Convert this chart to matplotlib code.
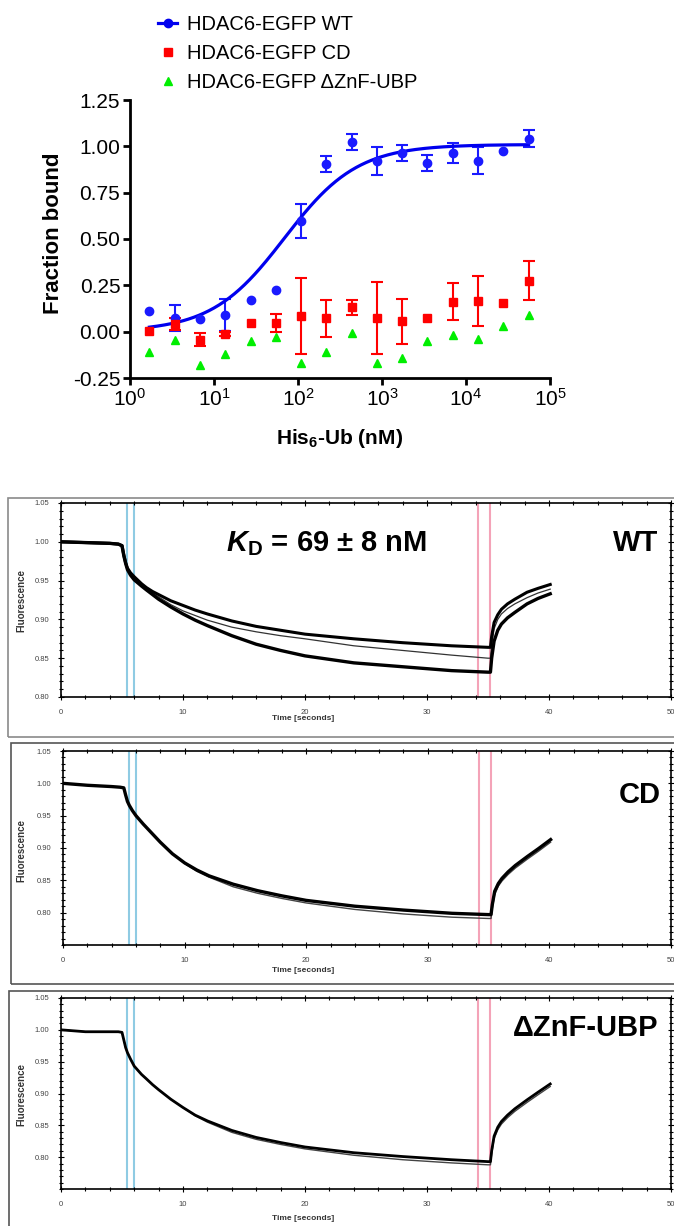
import matplotlib
matplotlib.use('Agg')
import matplotlib.pyplot as plt
from matplotlib.lines import Line2D
from matplotlib.patches import Rectangle
from matplotlib.ticker import LogLocator, NullLocator, MultipleLocator, FormatStrFormatter
import numpy as np

W, H = 674, 1226
plt.rcParams['font.family'] = ['Liberation Sans', 'DejaVu Sans']
plt.rcParams['axes.unicode_minus'] = False
plt.rcParams['mathtext.fontset'] = 'custom'
plt.rcParams['mathtext.rm'] = 'Liberation Sans'
plt.rcParams['mathtext.it'] = 'Liberation Sans:italic'
plt.rcParams['mathtext.bf'] = 'Liberation Sans:bold'
plt.rcParams['mathtext.bfit'] = 'Liberation Sans:italic:bold'

# ---- binding curve data (His6-Ub titration, nM) ----
conc = [1.7, 3.4, 6.8, 13.6, 27.2, 54.3, 108.6, 217, 434, 869, 1738, 3475, 6950, 13900, 27800, 55600]
wt = [0.113, 0.073, 0.071, 0.090, 0.172, 0.227, 0.598, 0.903, 1.023, 0.921, 0.964, 0.912, 0.964, 0.923, 0.973, 1.041]
wt_err = [0, 0.07, 0, 0.085, 0, 0, 0.092, 0.043, 0.044, 0.073, 0.043, 0.043, 0.055, 0.073, 0, 0.047]
cd = [0.002, 0.040, -0.043, -0.014, 0.047, 0.047, 0.086, 0.072, 0.131, 0.075, 0.055, 0.072, 0.161, 0.167, 0.156, 0.274]
cd_err = [0, 0.033, 0.035, 0.012, 0, 0.05, 0.204, 0.1, 0.04, 0.193, 0.12, 0, 0.1, 0.135, 0, 0.105]
dznf = [-0.111, -0.043, -0.179, -0.12, -0.052, -0.031, -0.17, -0.109, -0.009, -0.17, -0.141, -0.052, -0.02, -0.041, 0.031, 0.09]
kd_nm = 69
fit_top = 1.01

labels = ['HDAC6-EGFP WT', 'HDAC6-EGFP CD', 'HDAC6-EGFP \u0394ZnF-UBP']

# ---- MST time traces (seconds / normalised fluorescence) ----
t = [0, 2, 4, 4.7, 5.0, 5.15, 5.3, 5.45, 5.7, 6.0, 6.6, 7.0, 7.5, 8.0, 9.0, 10, 11, 12, 14, 16, 18, 20,
     24, 28, 32, 35.0, 35.2, 35.3, 35.5, 35.8, 36.1, 36.6, 37.2, 38.2, 39.1, 40.1]
wt_hi = [1.000, 0.999, 0.998, 0.997, 0.995, 0.983, 0.973, 0.966, 0.960, 0.955, 0.946, 0.941, 0.936, 0.932,
         0.924, 0.918, 0.912, 0.907, 0.898, 0.891, 0.886, 0.881, 0.875, 0.870, 0.866, 0.864,
         0.864, 0.878, 0.896, 0.906, 0.913, 0.920, 0.926, 0.935, 0.940, 0.945]
wt_mid = [1.000, 0.999, 0.998, 0.997, 0.995, 0.983, 0.973, 0.966, 0.959, 0.954, 0.945, 0.940, 0.934, 0.929,
          0.919, 0.911, 0.905, 0.899, 0.890, 0.884, 0.879, 0.875, 0.866, 0.860, 0.854, 0.850,
          0.850, 0.866, 0.888, 0.900, 0.907, 0.914, 0.920, 0.928, 0.934, 0.939]
wt_lo = [1.000, 0.999, 0.998, 0.997, 0.995, 0.982, 0.972, 0.964, 0.957, 0.951, 0.943, 0.938, 0.932, 0.926,
         0.916, 0.907, 0.899, 0.892, 0.879, 0.868, 0.860, 0.853, 0.844, 0.839, 0.834, 0.832,
         0.832, 0.850, 0.872, 0.886, 0.894, 0.902, 0.909, 0.920, 0.927, 0.933]
cd_a = [1.000, 0.997, 0.995, 0.994, 0.993, 0.982, 0.972, 0.966, 0.958, 0.950, 0.937, 0.929, 0.919, 0.909,
        0.891, 0.877, 0.866, 0.857, 0.844, 0.834, 0.826, 0.819, 0.810, 0.804, 0.799, 0.797,
        0.797, 0.812, 0.833, 0.845, 0.853, 0.863, 0.873, 0.887, 0.899, 0.913]
cd_b = [1.000, 0.997, 0.995, 0.994, 0.993, 0.982, 0.972, 0.966, 0.958, 0.950, 0.937, 0.929, 0.919, 0.909,
        0.891, 0.876, 0.864, 0.855, 0.840, 0.830, 0.822, 0.815, 0.805, 0.798, 0.793, 0.791,
        0.791, 0.806, 0.828, 0.841, 0.849, 0.859, 0.869, 0.883, 0.895, 0.909]
dz_a = [1.000, 0.997, 0.997, 0.997, 0.996, 0.984, 0.972, 0.964, 0.954, 0.943, 0.930, 0.923, 0.914, 0.906,
        0.891, 0.878, 0.866, 0.857, 0.842, 0.831, 0.823, 0.816, 0.807, 0.801, 0.796, 0.793,
        0.793, 0.810, 0.833, 0.847, 0.856, 0.866, 0.876, 0.890, 0.902, 0.915]
dz_b = [1.000, 0.997, 0.997, 0.997, 0.996, 0.984, 0.972, 0.964, 0.954, 0.943, 0.930, 0.923, 0.914, 0.906,
        0.891, 0.878, 0.865, 0.855, 0.839, 0.828, 0.820, 0.813, 0.803, 0.796, 0.791, 0.788,
        0.788, 0.805, 0.829, 0.843, 0.852, 0.862, 0.872, 0.886, 0.898, 0.911]
cold_region = [5.45, 6.0]
hot_region = [34.2, 35.2]

fig = plt.figure(figsize=(W / 100, H / 100), dpi=100)


def add_ax(l, t_, r, b):
    return fig.add_axes([l / W, 1 - b / H, (r - l) / W, (b - t_) / H])


def fx(px):
    return px / W


def fy(py):
    return 1 - py / H


# ================= top: binding curve =================
ax = add_ax(130, 100, 550, 378)
c = np.array(conc)
cfit = np.logspace(np.log10(conc[0]), np.log10(conc[-1]), 300)
ax.plot(cfit, fit_top * cfit / (kd_nm + cfit), color='#0000ee', lw=2.3, zorder=3)

for y, err, col, mk, ms in [(wt, wt_err, '#1a1aff', 'o', 6), (cd, cd_err, '#ff0000', 's', 5.5)]:
    y = np.array(y)
    err = np.array(err)
    m = err > 0
    ax.errorbar(c[m], y[m], yerr=err[m], fmt='none', ecolor=col, elinewidth=1.5,
                capsize=4, capthick=1.5, zorder=2)
    ax.plot(c, y, ls='none', marker=mk, color=col, ms=ms, zorder=4)
ax.plot(c, dznf, ls='none', marker='^', color='#00ee00', ms=5.5, zorder=4)

ax.set_xscale('log')
ax.set_xlim(1, 1e5)
ax.set_ylim(-0.25, 1.25)
ax.xaxis.set_major_locator(LogLocator(base=10, numticks=10))
ax.xaxis.set_minor_locator(NullLocator())
ax.yaxis.set_major_locator(MultipleLocator(0.25))
ax.yaxis.set_major_formatter(FormatStrFormatter('%.2f'))
for s in ['top', 'right']:
    ax.spines[s].set_visible(False)
for s in ['left', 'bottom']:
    ax.spines[s].set_linewidth(2)
ax.tick_params(width=2, length=5, labelsize=15, pad=2)

fig.text(fx(54), fy(233), 'Fraction bound', rotation=90, ha='center', va='center',
         fontsize=16, fontweight='bold')
fig.text(fx(340), fy(439), r'His$_{\mathdefault{6}}$-Ub (nM)', ha='center', va='center',
         fontsize=15, fontweight='bold')

handles = [Line2D([], [], color='#0000ee', lw=2.3, marker='o', ms=6),
           Line2D([], [], color='#ff0000', ls='none', marker='s', ms=5.5),
           Line2D([], [], color='#00ee00', ls='none', marker='^', ms=5.5)]
fig.legend(handles, labels, loc='upper left', bbox_to_anchor=(fx(158), fy(15)),
           frameon=False, fontsize=14.5, handlelength=0.95, handletextpad=0.5,
           labelspacing=0.5, borderpad=0, borderaxespad=0)

# ================= bottom: MST traces =================
panels = [
    dict(box=(8, 498, 690, 737), ax=(61, 503, 671, 697), ylo=0.80,
         traces=[(wt_mid, 0.9, '#333333'), (wt_hi, 2.2, 'k'), (wt_lo, 2.4, 'k')],
         name='WT', nxy=(636, 543), flab=(21, 600), tlab=(303, 719), edge='#8a8a8a'),
    dict(box=(11, 743, 690, 984), ax=(63, 751, 671, 945), ylo=0.75,
         traces=[(cd_b, 1.0, '#444444'), (cd_a, 2.4, 'k')],
         name='CD', nxy=(640, 795), flab=(21, 850), tlab=(303, 971), edge='#555555'),
    dict(box=(9, 991, 690, 1240), ax=(61, 998, 671, 1189), ylo=0.75,
         traces=[(dz_b, 1.0, '#444444'), (dz_a, 2.0, 'k')],
         name='\u0394ZnF-UBP', nxy=(586, 1028), flab=(21, 1095), tlab=(303, 1218), edge='#555555'),
]

for p in panels:
    l, t_, r, b = p['box']
    fig.add_artist(Rectangle((fx(l), fy(b)), (r - l) / W, (b - t_) / H, transform=fig.transFigure,
                             fill=False, edgecolor=p['edge'], lw=1.2))
    a = add_ax(*p['ax'])
    for xv in cold_region:
        a.axvline(xv, color='#8fcbe3', lw=1.5, zorder=1)
    for xv in hot_region:
        a.axvline(xv, color='#f4a3b8', lw=1.5, zorder=1)
    for vals, lw, col in p['traces']:
        a.plot(t, vals, color=col, lw=lw, zorder=2, solid_joinstyle='round')
    a.set_xlim(0, 50)
    a.set_ylim(p['ylo'], 1.05)
    a.set_xticks([0, 10, 20, 30, 40, 50])
    a.set_yticks([0.80, 0.85, 0.90, 0.95, 1.00, 1.05])
    a.xaxis.set_minor_locator(MultipleLocator(2))
    a.yaxis.set_minor_locator(MultipleLocator(0.01))
    a.yaxis.set_major_formatter(FormatStrFormatter('%.2f'))
    a.tick_params(which='both', direction='inout', top=True, right=True, width=0.8,
                  labelsize=5.5, labelcolor='#444444')
    a.tick_params(which='major', length=5, pad=6)
    a.tick_params(which='minor', length=3)
    for s in a.spines.values():
        s.set_linewidth(1.2)
    fig.text(fx(p['flab'][0]), fy(p['flab'][1]), 'Fluorescence', rotation=90, ha='center', va='center',
             fontsize=7, fontweight='bold', color='#333333')
    fig.text(fx(p['tlab'][0]), fy(p['tlab'][1]), 'Time [seconds]', ha='center', va='center',
             fontsize=6, fontweight='bold', color='#333333')
    fig.text(fx(p['nxy'][0]), fy(p['nxy'][1]), p['name'], ha='center', va='center',
             fontsize=21, fontweight='bold')

fig.text(fx(327), fy(551), r'$\mathbfit{K}_{\mathdefault{D}}$ = 69 $\mathdefault{\pm}$ 8 nM', ha='center',
         va='baseline', fontsize=21, fontweight='bold')

fig.savefig('out.png', dpi=100)
